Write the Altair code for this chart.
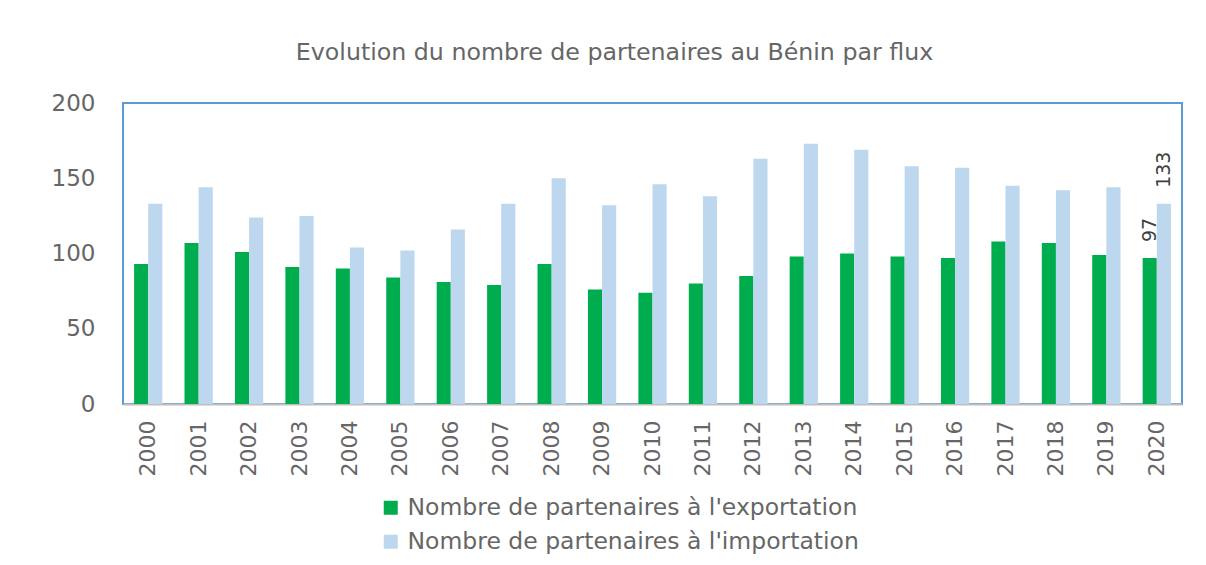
import altair as alt
import pandas as pd

years = [str(y) for y in range(2000, 2021)]
export_vals = [93, 107, 101, 91, 90, 84, 81, 79, 93, 76, 74, 80, 85, 98, 100, 98, 97, 108, 107, 99, 97]
import_vals = [133, 144, 124, 125, 104, 102, 116, 133, 150, 132, 146, 138, 163, 173, 169, 158, 157, 145, 142, 144, 133]
series = ["Nombre de partenaires à l'exportation", "Nombre de partenaires à l'importation"]
colors = ["#00AD4E", "#BDD7EE"]
labelled_year = "2020"

rows = []
for i, yr in enumerate(years):
    rows.append({"year": yr, "flux": series[0], "value": export_vals[i]})
    rows.append({"year": yr, "flux": series[1], "value": import_vals[i]})
df = pd.DataFrame(rows)

FONT = "DejaVu Sans"
GREY = "#666666"

base = alt.Chart(df).encode(
    x=alt.X(
        "year:N",
        sort=years,
        scale=alt.Scale(paddingInner=0.44, paddingOuter=0.22),
        axis=alt.Axis(
            title=None,
            labelAngle=270,
            labelAlign="right",
            labelBaseline="middle",
            labelPadding=16,
            ticks=False,
            domainColor="#BFBFBF",
            domainWidth=2,
            labelFontSize=22,
            labelColor=GREY,
            labelFont=FONT,
        ),
    ),
    xOffset=alt.XOffset("flux:N", sort=series),
    y=alt.Y(
        "value:Q",
        scale=alt.Scale(domain=[0, 200]),
        axis=alt.Axis(
            title=None,
            values=[0, 50, 100, 150, 200],
            ticks=False,
            domain=False,
            grid=False,
            labelPadding=28,
            labelFontSize=23,
            labelColor=GREY,
            labelFont=FONT,
        ),
    ),
)

bars = base.mark_bar().encode(
    color=alt.Color(
        "flux:N",
        sort=series,
        scale=alt.Scale(domain=series, range=colors),
        legend=alt.Legend(
            title=None,
            orient="none",
            legendX=256,
            legendY=393,
            symbolType="square",
            symbolSize=196,
            symbolStrokeWidth=0,
            labelFontSize=23.5,
            labelColor=GREY,
            labelFont=FONT,
            labelLimit=0,
            rowPadding=9,
            labelOffset=5,
        ),
    )
)

labels = base.transform_filter(alt.datum.year == labelled_year).mark_text(
    angle=270, align="left", baseline="middle", dx=16, fontSize=19, color="#404040", font=FONT
).encode(text="value:Q")

chart = (
    alt.layer(bars, labels)
    .properties(
        width=1059,
        height=301,
        autosize=alt.AutoSizeParams(type="none"),
        padding={"left": 115, "top": 95, "right": 16, "bottom": 150},
        title=alt.TitleParams(
            "Evolution du nombre de partenaires au Bénin par flux",
            fontSize=23.7,
            font=FONT,
            fontWeight="normal",
            color=GREY,
            anchor="middle",
            dx=-38,
            offset=27,
        ),
    )
    .configure_view(stroke="#5B9BD5", strokeWidth=2)
)

chart.save("out.html", embed_options={"renderer": "svg", "actions": False})
